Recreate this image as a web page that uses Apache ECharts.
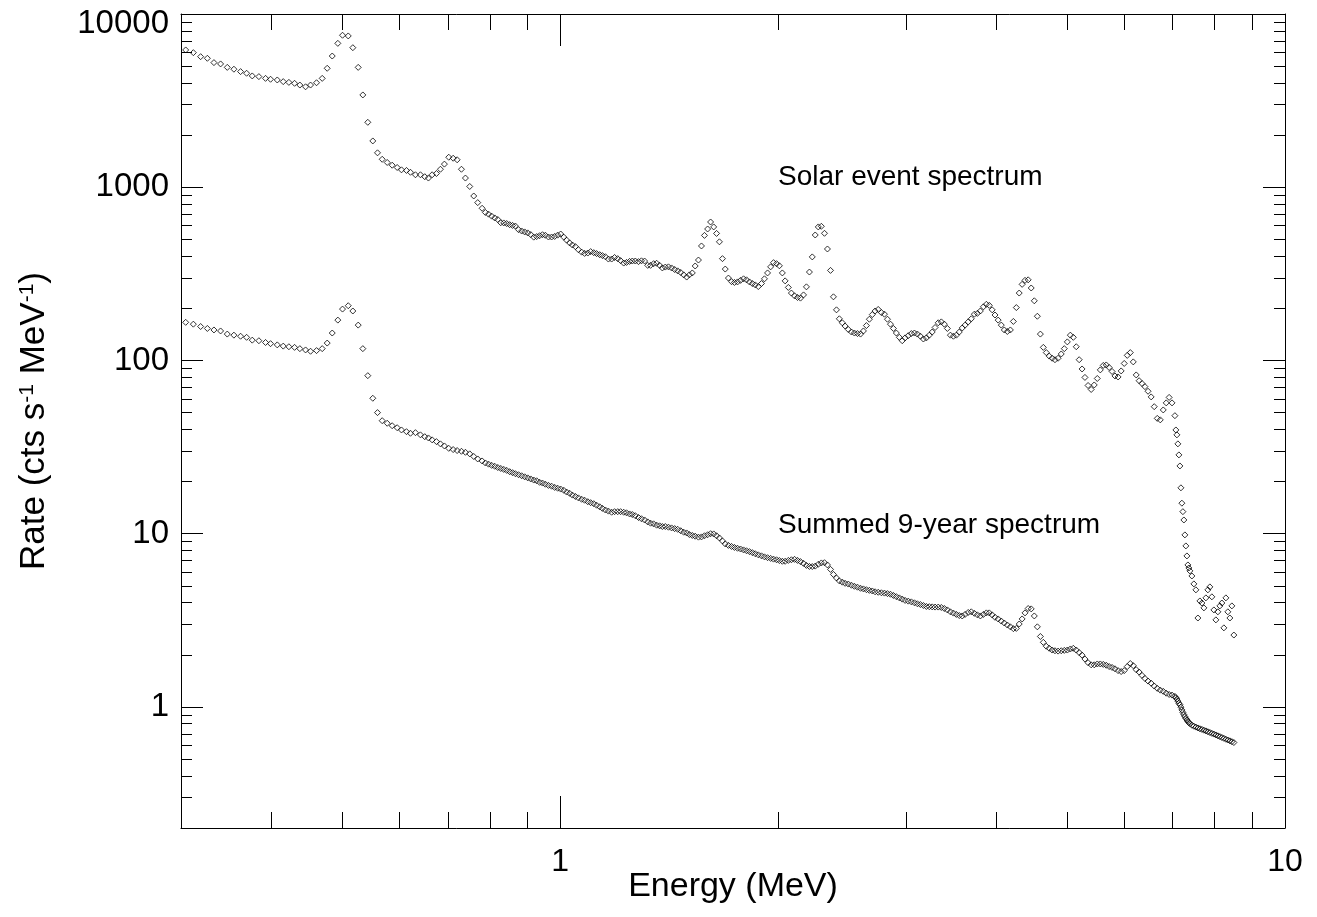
<!DOCTYPE html>
<html>
<head>
<meta charset="utf-8">
<title>Solar event and summed 9-year spectra</title>
<script src="https://cdn.jsdelivr.net/npm/echarts@6/dist/echarts.min.js"></script>
<style>
  html, body { margin: 0; padding: 0; background: #fff; }
  #chart { width: 1317px; height: 917px; }
</style>
</head>
<body>
<div id="chart"></div>
<script>
// energy bins (MeV), shared by both spectra
const energy = [
  0.3045, 0.3120, 0.3193, 0.3262, 0.3331, 0.3402, 0.3475, 0.3549, 0.3625, 0.3695,
  0.3762, 0.3842, 0.3924, 0.3987, 0.4073, 0.4151, 0.4226, 0.4303, 0.4376, 0.4456,
  0.4527, 0.4614, 0.4698, 0.4773, 0.4850, 0.4937, 0.5011, 0.5103, 0.5178, 0.5267,
  0.5345, 0.5430, 0.5517, 0.5600, 0.5684, 0.5775, 0.5867, 0.5961, 0.6043, 0.6140,
  0.6218, 0.6317, 0.6418, 0.6507, 0.6583, 0.6661, 0.6753, 0.6839, 0.6926, 0.7022,
  0.7121, 0.7212, 0.7311, 0.7404, 0.7506, 0.7602, 0.7699, 0.7807,
  0.7889, 0.7968, 0.8047, 0.8126, 0.8205, 0.8283, 0.8362, 0.8441, 0.8520, 0.8599,
  0.8677, 0.8764, 0.8851, 0.8937, 0.9024, 0.9111, 0.9198, 0.9284, 0.9371, 0.9458,
  0.9544, 0.9639, 0.9735, 0.9830, 0.9925, 1.002, 1.012, 1.021, 1.031, 1.040,
  1.050, 1.060, 1.071, 1.081, 1.092, 1.102, 1.113, 1.123, 1.134, 1.144,
  1.155, 1.166, 1.178, 1.189, 1.201, 1.212, 1.224, 1.235, 1.247, 1.258,
  1.270, 1.283, 1.295, 1.308, 1.321, 1.333, 1.346, 1.359, 1.372, 1.384,
  1.397, 1.411, 1.425, 1.439, 1.453, 1.467, 1.481, 1.495, 1.508, 1.522,
  1.536, 1.552, 1.567, 1.582, 1.598, 1.613, 1.629, 1.644, 1.659, 1.675,
  1.690, 1.707, 1.724, 1.740, 1.757, 1.774, 1.791, 1.808, 1.825, 1.842,
  1.859, 1.877, 1.896, 1.914, 1.933, 1.952, 1.970, 1.989, 2.007, 2.026,
  2.044, 2.065, 2.085, 2.106, 2.126, 2.146, 2.167, 2.187, 2.208, 2.228,
  2.249, 2.271, 2.293, 2.316, 2.338, 2.361, 2.383, 2.406, 2.428, 2.451,
  2.473, 2.498, 2.523, 2.547, 2.572, 2.597, 2.621, 2.646, 2.671, 2.696,
  2.720, 2.747, 2.775, 2.802, 2.829, 2.856, 2.883, 2.910, 2.938, 2.965,
  2.992, 3.022, 3.052, 3.082, 3.111, 3.141, 3.171, 3.201, 3.231, 3.261,
  3.291, 3.324, 3.357, 3.389, 3.422, 3.455, 3.488, 3.521, 3.554, 3.587,
  3.620, 3.656, 3.692, 3.728, 3.764, 3.800, 3.837, 3.873, 3.909, 3.945,
  3.981, 4.021, 4.061, 4.100, 4.140, 4.180, 4.220, 4.260, 4.299, 4.339,
  4.379, 4.423, 4.466, 4.510, 4.554, 4.598, 4.641, 4.685, 4.729, 4.773,
  4.816, 4.864, 4.913, 4.961, 5.009, 5.057, 5.105, 5.153, 5.201, 5.249,
  5.297, 5.350, 5.403, 5.456, 5.509, 5.562, 5.615, 5.668, 5.721, 5.774,
  5.827, 5.885, 5.943, 6.001, 6.059, 6.118, 6.176, 6.234, 6.292, 6.350,
  6.409, 6.473, 6.537, 6.601, 6.665, 6.729, 6.793, 6.857, 6.921, 6.985,
  7.049, 7.071, 7.094, 7.116, 7.139, 7.162, 7.185, 7.207, 7.230, 7.253,
  7.276, 7.299, 7.323, 7.346, 7.369, 7.393,
  7.440, 7.487, 7.535, 7.583, 7.631, 7.680, 7.729, 7.778, 7.827, 7.877,
  7.927, 7.978, 8.029, 8.080, 8.131, 8.183, 8.235, 8.288, 8.340, 8.394,
  8.447, 8.501
];

// cts s^-1 MeV^-1
const solarRate = [
  6200, 5980, 5670, 5550, 5240, 5150, 4920, 4800, 4650, 4550,
  4390, 4350, 4250, 4200, 4160, 4070, 4030, 3980, 3890, 3800,
  3890, 4010, 4250, 4860, 5720, 6770, 7540, 7470, 6390, 4920,
  3410, 2370, 1850, 1580, 1450, 1390, 1340, 1300, 1260, 1250,
  1220, 1180, 1180, 1150, 1130, 1180, 1200, 1270, 1360, 1490,
  1470, 1440, 1270, 1130, 1010, 890, 815, 756,
  715, 699, 681, 665, 651, 624, 622, 617, 608, 602,
  597, 569, 559, 552, 545, 533, 515, 519, 525, 532,
  528, 516, 516, 520, 529, 537, 515, 495, 477, 464,
  454, 436, 422, 415, 417, 425, 419, 414, 408, 403,
  397, 385, 385, 393, 387, 377, 365, 368, 373, 375,
  375, 372, 376, 375, 354, 354, 362, 364, 354, 342,
  346, 347, 342, 335, 329, 322, 312, 303, 312, 320,
  351, 380, 458, 527, 574, 630, 590, 541, 484, 387,
  337, 299, 285, 282, 284, 290, 296, 292, 284, 278,
  273, 267, 278, 296, 320, 347, 367, 362, 352, 320,
  288, 264, 245, 236, 231, 229, 239, 266, 324, 396,
  530, 590, 595, 542, 440, 331, 233, 196, 174, 165,
  158, 151, 146, 144, 143, 142, 148, 159, 173, 184,
  193, 197, 189, 185, 173, 162, 153, 144, 136, 130,
  135, 139, 143, 144, 142, 138, 133, 135, 140, 146,
  155, 165, 167, 162, 153, 140, 138, 140, 146, 154,
  160, 167, 174, 185, 187, 193, 204, 211, 208, 196,
  183, 171, 160, 150, 147, 150, 168, 202, 245, 275,
  290, 292, 262, 221, 180, 142, 119, 111, 106, 103,
  101, 103, 109, 117, 128, 140, 136, 120, 101, 89.3,
  79.8, 71.7, 68.0, 72.2, 78.7, 88.2, 93.6, 94.2, 91.1, 86.4,
  81.4, 80.3, 87.0, 96.1, 107, 111, 98.1, 82.5, 76.4, 73.6,
  70.6, 66.4, 61.6, 54.1, 46.3, 45.4, 51.8, 56.9, 61.2, 56.9,
  48.0, 39.7, 37.2, 33.0, 28.5, 24.6, 18.4, 15.0, 13.4, 12.0,
  9.84, 8.50, 7.44, 6.60, 6.34, 6.10,
  5.70, 5.13, 4.74, 3.26, 4.09, 3.98, 3.73, 4.26, 4.74, 4.93,
  4.32, 3.63, 3.18, 3.54, 3.83, 3.98, 2.86, 4.26, 3.54, 3.26,
  3.83, 2.60
];

const summedRate = [
  166, 162, 157, 153, 150, 148, 142, 140, 138, 136,
  131, 130, 127, 125, 123, 121, 120, 119, 117, 115,
  113, 114, 117, 126, 144, 171, 198, 207, 193, 160,
  117, 81.7, 60.5, 50.0, 44.9, 43.4, 42.0, 40.9, 39.7, 38.8,
  38.0, 38.3, 37.2, 36.3, 35.7, 34.8, 34.0, 33.0, 32.1, 31.1,
  30.6, 30.2, 29.9, 29.5, 28.9, 27.9, 27.0, 26.3,
  25.6, 25.2, 24.8, 24.5, 24.1, 23.8, 23.5, 23.2, 22.8, 22.5,
  22.2, 21.9, 21.6, 21.3, 21.0, 20.7, 20.4, 20.2, 19.8, 19.6,
  19.3, 19.0, 18.8, 18.5, 18.3, 18.1, 17.8, 17.4, 17.1, 16.7,
  16.4, 16.1, 15.8, 15.6, 15.3, 15.1, 14.9, 14.6, 14.3, 14.0,
  13.7, 13.5, 13.3, 13.4, 13.4, 13.4, 13.3, 13.2, 13.0, 12.9,
  12.7, 12.4, 12.2, 12.0, 11.7, 11.5, 11.4, 11.2, 11.1, 11.0,
  11.0, 10.9, 10.8, 10.7, 10.6, 10.4, 10.2, 10.1, 9.89, 9.77,
  9.67, 9.55, 9.58, 9.73, 9.86, 10.0, 9.97, 9.73, 9.45, 9.08,
  8.73, 8.56, 8.44, 8.33, 8.24, 8.16, 8.06, 7.97, 7.88, 7.77,
  7.66, 7.55, 7.45, 7.35, 7.27, 7.20, 7.13, 7.07, 7.00, 6.93,
  6.93, 7.01, 7.07, 7.11, 7.01, 6.90, 6.74, 6.56, 6.47, 6.46,
  6.50, 6.66, 6.78, 6.80, 6.60, 6.22, 5.82, 5.55, 5.34, 5.25,
  5.17, 5.12, 5.04, 4.97, 4.91, 4.84, 4.80, 4.75, 4.71, 4.67,
  4.62, 4.59, 4.56, 4.54, 4.51, 4.47, 4.40, 4.33, 4.26, 4.19,
  4.12, 4.08, 4.04, 3.99, 3.94, 3.90, 3.85, 3.80, 3.79, 3.78,
  3.77, 3.77, 3.75, 3.70, 3.63, 3.54, 3.48, 3.42, 3.37, 3.35,
  3.42, 3.51, 3.54, 3.47, 3.40, 3.35, 3.42, 3.49, 3.49, 3.40,
  3.29, 3.22, 3.13, 3.05, 2.97, 2.90, 2.83, 2.84, 3.01, 3.22,
  3.49, 3.70, 3.68, 3.35, 2.90, 2.55, 2.36, 2.24, 2.18, 2.13,
  2.11, 2.10, 2.11, 2.12, 2.13, 2.16, 2.18, 2.13, 2.06, 1.99,
  1.89, 1.80, 1.75, 1.75, 1.77, 1.77, 1.76, 1.74, 1.71, 1.69,
  1.66, 1.62, 1.60, 1.62, 1.71, 1.78, 1.73, 1.64, 1.59, 1.52,
  1.46, 1.41, 1.37, 1.32, 1.28, 1.25, 1.23, 1.20, 1.18, 1.17,
  1.15, 1.13, 1.11, 1.08, 1.05, 1.03, 0.997, 0.961, 0.930, 0.902,
  0.879, 0.858, 0.841, 0.825, 0.812, 0.801,
  0.784, 0.774, 0.765, 0.756, 0.748, 0.742, 0.734, 0.727, 0.719, 0.712,
  0.704, 0.697, 0.689, 0.681, 0.674, 0.666, 0.659, 0.651, 0.644, 0.637,
  0.630, 0.623
];

const xTickLabels = [1, 10];
const yTickLabels = [1, 10, 100, 1000, 10000];

const FONT = 'Liberation Sans, Arial, Helvetica, sans-serif';
const BLACK = '#000';

function isLabel(list, v) {
  return list.some(t => Math.abs(v - t) < t * 1e-6);
}

const chart = echarts.init(document.getElementById('chart'));

const xCommon = {
  type: 'log',
  logBase: 10,
  min: 0.3,
  max: 10,
  nameMoveOverlap: false,
  axisLine: { onZero: false, lineStyle: { color: BLACK, width: 1 } },
  axisTick: { inside: true, length: 32, lineStyle: { color: BLACK, width: 1 } },
  minorTick: { show: true, splitNumber: 9, length: 16, lineStyle: { color: BLACK, width: 1 } },
  splitLine: { show: false },
  minorSplitLine: { show: false }
};

const yCommon = {
  type: 'log',
  logBase: 10,
  min: 0.2,
  max: 10000,
  nameMoveOverlap: false,
  axisLine: { onZero: false, lineStyle: { color: BLACK, width: 1 } },
  axisTick: { inside: true, length: 22, lineStyle: { color: BLACK, width: 1 } },
  minorTick: { show: true, splitNumber: 9, length: 11, lineStyle: { color: BLACK, width: 1 } },
  splitLine: { show: false },
  minorSplitLine: { show: false }
};

const diamond = {
  type: 'scatter',
  symbol: 'diamond',
  symbolSize: 6,
  itemStyle: { color: 'rgba(0,0,0,0)', borderColor: BLACK, borderWidth: 1 },
  emphasis: { disabled: true },
  silent: true
};

chart.setOption({
  animation: false,
  backgroundColor: '#fff',
  grid: {
    left: 181,
    right: 32,
    top: 14,
    bottom: 89,
    containLabel: false,
    outerBoundsMode: 'none'
  },
  xAxis: [
    Object.assign({}, xCommon, {
      position: 'bottom',
      name: 'Energy (MeV)',
      nameLocation: 'middle',
      nameGap: 42,
      nameTextStyle: { fontSize: 34, fontFamily: FONT, color: BLACK },
      axisLabel: {
        fontSize: 32,
        fontFamily: FONT,
        color: BLACK,
        margin: 18,
        formatter: v => (isLabel(xTickLabels, v) ? String(Math.round(v)) : '')
      }
    }),
    Object.assign({}, xCommon, {
      position: 'top',
      axisLabel: { show: false }
    })
  ],
  yAxis: [
    Object.assign({}, yCommon, {
      position: 'left',
      name: 'Rate (cts s{sup|-1} MeV{sup|-1})',
      nameLocation: 'middle',
      nameRotate: 90,
      nameGap: 129,
      nameTextStyle: {
        fontSize: 35,
        fontFamily: FONT,
        color: BLACK,
        rich: {
          sup: { fontSize: 21, fontFamily: FONT, color: BLACK, verticalAlign: 'top' }
        }
      },
      axisLabel: {
        fontSize: 33,
        fontFamily: FONT,
        color: BLACK,
        margin: 12,
        formatter: v => {
          if (!isLabel(yTickLabels, v)) return '';
          const s = String(Math.round(v));
          // top label sits a little below its tick, as in the original
          return v > 5000 ? '{top|' + s + '}' : s;
        },
        rich: {
          top: { fontSize: 33, fontFamily: FONT, color: BLACK, padding: [20, 0, 0, 0] }
        }
      }
    }),
    Object.assign({}, yCommon, {
      position: 'right',
      axisLabel: { show: false }
    })
  ],
  graphic: [
    {
      type: 'text',
      x: 778,
      y: 177,
      silent: true,
      style: {
        text: 'Solar event spectrum',
        font: '28px ' + FONT,
        fill: BLACK,
        align: 'left',
        verticalAlign: 'middle',
        textAlign: 'left',
        textVerticalAlign: 'middle'
      }
    },
    {
      type: 'text',
      x: 778,
      y: 525,
      silent: true,
      style: {
        text: 'Summed 9-year spectrum',
        font: '28px ' + FONT,
        fill: BLACK,
        align: 'left',
        verticalAlign: 'middle',
        textAlign: 'left',
        textVerticalAlign: 'middle'
      }
    }
  ],
  series: [
    Object.assign({}, diamond, {
      name: 'Solar event spectrum',
      xAxisIndex: 0,
      yAxisIndex: 0,
      data: energy.map((e, i) => [e, solarRate[i]])
    }),
    Object.assign({}, diamond, {
      name: 'Summed 9-year spectrum',
      xAxisIndex: 0,
      yAxisIndex: 0,
      data: energy.map((e, i) => [e, summedRate[i]])
    })
  ]
});
</script>
</body>
</html>
